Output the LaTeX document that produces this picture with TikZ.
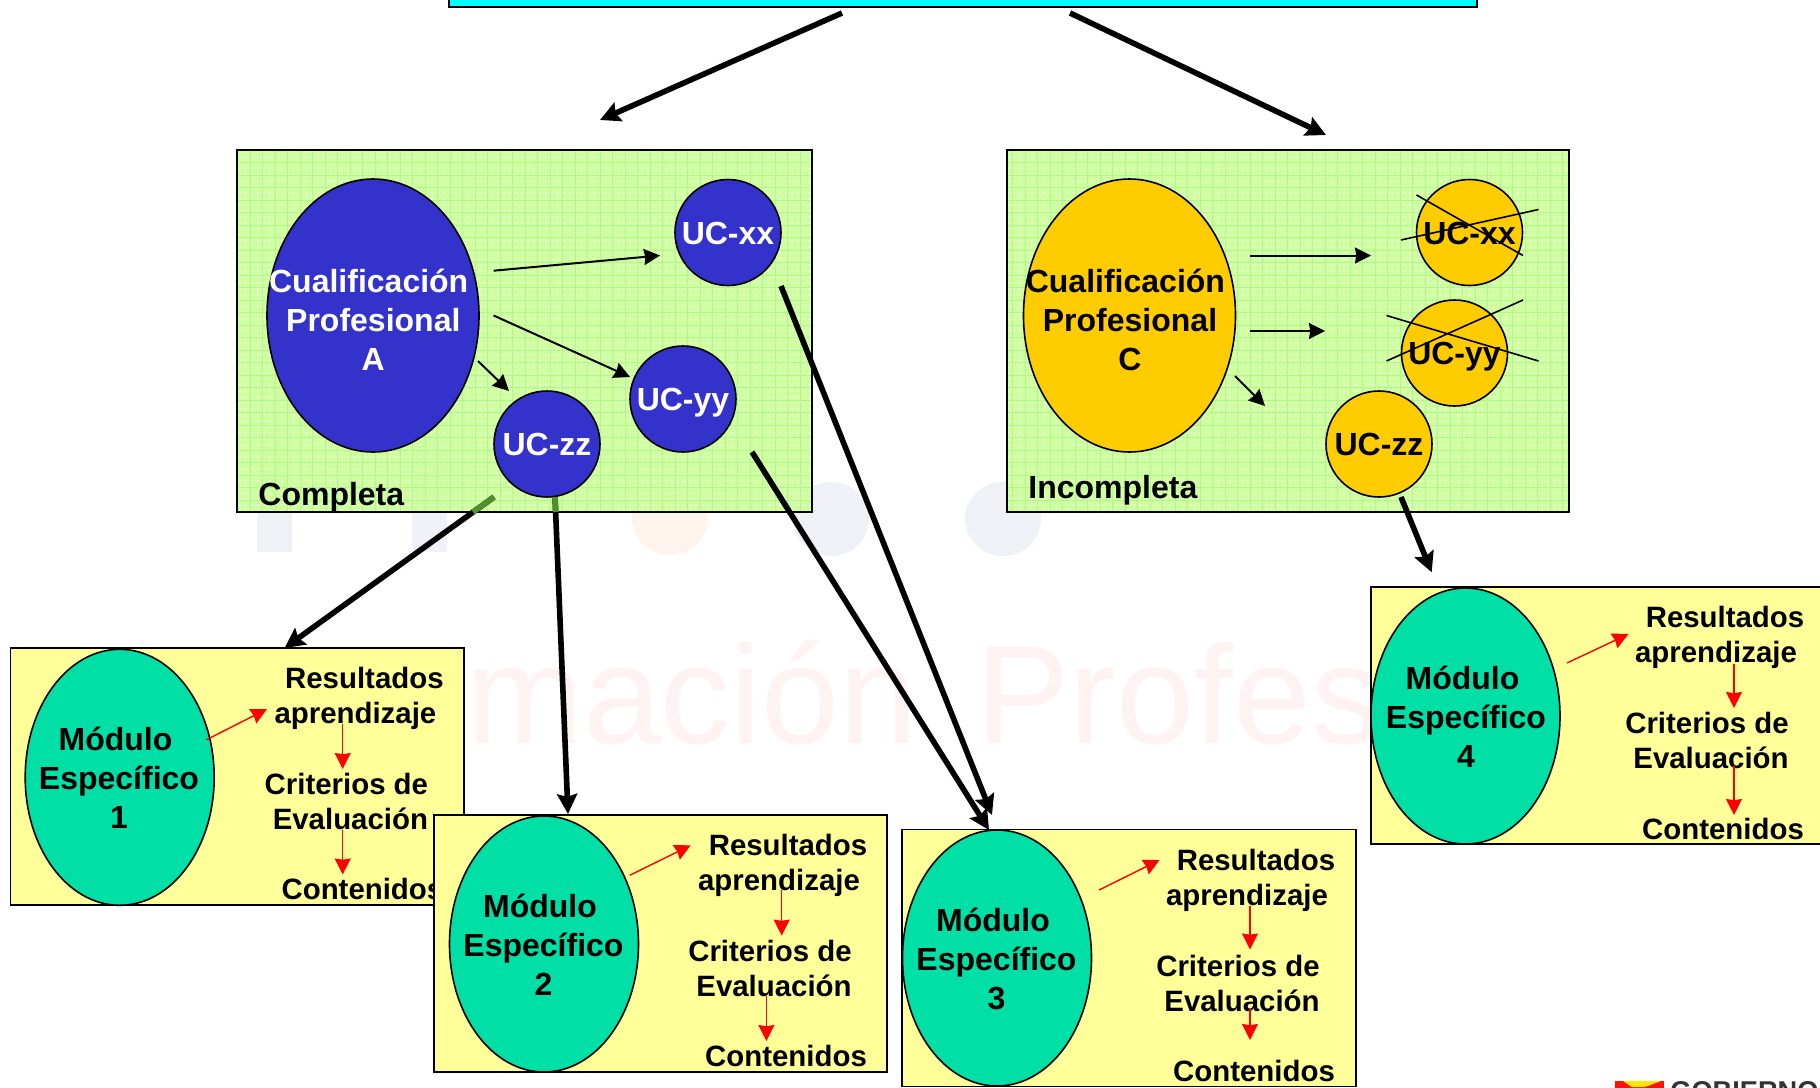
\documentclass[tikz,border=0pt]{standalone}
\usepackage{fontspec}
\setmainfont{Liberation Sans}
\usetikzlibrary{shapes.geometric,arrows.meta,patterns}
\definecolor{azulcian}{HTML}{00FFFF}
\definecolor{verdecaja}{HTML}{CCFF99}
\definecolor{verderejilla}{HTML}{AEF98A}
\definecolor{azuluc}{HTML}{3333CC}
\definecolor{naranjauc}{HTML}{FFCC00}
\definecolor{amarillocaja}{HTML}{FFFF99}
\definecolor{verdemodulo}{HTML}{00E0A6}
\definecolor{verdetramo}{HTML}{4F8F2C}
\tikzset{
	texto/.style={font=\fontsize{16}{19.4}\selectfont\bfseries, text height=11.5pt, text depth=0pt, inner sep=0pt},
	textocaja/.style={font=\fontsize{14.7}{19.4}\selectfont\bfseries, text height=10.5pt, text depth=0pt, inner sep=0pt},
	varias/.style={font=\fontsize{16}{19.4}\selectfont\bfseries, align=center, inner sep=0pt},
	cajaverde/.style={preaction={fill=verdecaja, fill opacity=.92}, pattern=dots, pattern color=white!80!verdecaja, inner sep=0pt},
	cajaamarilla/.style={draw=black, line width=.9pt, fill=amarillocaja, minimum height=128.5pt, inner sep=0pt},
	uc/.style={circle, draw=black, line width=.8pt, minimum size=53pt, inner sep=0pt, texto},
	cualif/.style={ellipse, draw=black, line width=.8pt, minimum width=106pt, minimum height=136.5pt, inner sep=0pt},
	modulo/.style={ellipse, draw=black, line width=.8pt, fill=verdemodulo, minimum width=94.5pt, minimum height=128pt, inner sep=0pt},
	gruesa/.style={-{Stealth[length=10pt,width=10pt,inset=1.5pt]}, line width=2.8pt},
	fina/.style={-{Stealth[length=8pt,width=8pt,inset=.6pt]}, line width=1pt},
	roja/.style={-{Stealth[length=8pt,width=8pt,inset=.6pt]}, line width=.7pt, red},
	aspa/.style={line width=.8pt},
	tramo/.style={line width=2.8pt, verdetramo},
	rejilla/.style={verderejilla, line width=.35pt, step=6.25pt},
	borde/.style={line width=1pt},
	marcaagua/.style={ellipse, minimum width=38pt, minimum height=37pt, inner sep=0pt},
	agua/.style={anchor=base west, font=\fontsize{70}{70}\selectfont, text=red!5, inner sep=0pt}
}
\begin{document}
\begin{tikzpicture}[x=0.5pt,y=-0.5pt]
		\useasboundingbox (0,0) rectangle (1820,1087);
		\fill[white] (0,0) rectangle (1820,1087);
		\fill[blue!30!gray!9] (257,360) rectangle (292,552);
		\fill[blue!40!gray!8] (412,360) rectangle (447,552);
		\node[marcaagua, fill=red!40!orange!7] (manchaRoja) at (670,518) { };
		\node[marcaagua, fill=blue!30!gray!9] (manchaGris) at (831,519) { };
		\node[marcaagua, fill=blue!30!gray!9] (manchaAzul) at (1003,519) { };
		\node[agua] (aguaUno) at (466,743) {mación};
		\node[agua] (aguaDos) at (976,743) {Profes};
		\node[fill=azulcian, draw=black, line width=1pt, minimum width=514pt, minimum height=13.5pt, inner sep=0pt] (titulo) at (963,-6.5) { };
		\node[cajaverde, minimum width=287.5pt, minimum height=181pt] (completa) at (524.5,331) { };
		\node[cajaverde, minimum width=280.5pt, minimum height=181pt] (incompleta) at (1288,331) { };
		\draw[rejilla] (completa.south west) grid (completa.north east);
		\draw[rejilla] (incompleta.south west) grid (incompleta.north east);
		\draw[borde] (completa.south west) rectangle (completa.north east);
		\draw[borde] (incompleta.south west) rectangle (incompleta.north east);
		\node[cualif, fill=azuluc] (cualA) at (373,315.5) { };
		\node[varias, text=white] (textoA) at (373.3,320) {Cualificación\rule{4.6pt}{0pt}\\Profesional\\A};
		\node[uc, fill=azuluc, text=white] (ucxa) at (728,232.5) {UC-xx};
		\node[uc, fill=azuluc, text=white] (ucya) at (683,399) {UC-yy};
		\node[uc, fill=azuluc, text=white] (ucza) at (547,444) {UC-zz};
		\node[texto, anchor=west] (etiquetaA) at (258,494) {Completa};
		\node[cualif, fill=naranjauc] (cualC) at (1129.5,315.5) { };
		\node[varias] (textoC) at (1130,320) {Cualificación\rule{4.6pt}{0pt}\\Profesional\\C};
		\node[uc, fill=naranjauc] (ucxc) at (1469.5,232.5) {UC-xx};
		\node[uc, fill=naranjauc] (ucyc) at (1454.5,353) {UC-yy};
		\node[uc, fill=naranjauc] (uczc) at (1379,444) {UC-zz};
		\node[texto, anchor=west] (etiquetaC) at (1028,487) {Incompleta};
		\draw[aspa] ([shift={(-53,-37.5)}]ucxc.center) -- ([shift={(53.5,23)}]ucxc.center);
		\draw[aspa] ([shift={(-68.5,7.5)}]ucxc.center) -- ([shift={(69,-23)}]ucxc.center);
		\draw[aspa] ([shift={(-68,-37.5)}]ucyc.center) -- ([shift={(84,8)}]ucyc.center);
		\draw[aspa] ([shift={(-68,8)}]ucyc.center) -- ([shift={(68.5,-53)}]ucyc.center);
		\draw[fina] ([shift={(120.6,-44.8)}]cualA.center) -- ([shift={(-68,23)}]ucxa.center);
		\draw[fina] ([shift={(120.6,0)}]cualA.center) -- ([shift={(-53,-22)}]ucya.center);
		\draw[fina] ([shift={(105,45.5)}]cualA.center) -- ([shift={(-38,-53)}]ucza.center);
		\draw[fina] ([shift={(120.5,-60)}]cualC.center) -- ([shift={(-98.5,23)}]ucxc.center);
		\draw[fina] ([shift={(120.5,15.5)}]cualC.center) -- ([shift={(-129.5,-22)}]ucyc.center);
		\draw[fina] ([shift={(105.5,60.5)}]cualC.center) -- ([shift={(-114,-38)}]uczc.center);
		\node[cajaamarilla, minimum width=226.8pt] (caja1) at (237.2,776.5) { };
		\node[modulo] (modulo1) at (119.7,777.3) { };
		\node[varias] (textoM1) at (119,778) {Módulo\rule{3.5pt}{0pt}\\Específico\\1};
		\node[textocaja] (resultados1) at (364.4,678) {Resultados};
		\node[textocaja] (aprendizaje1) at (355.4,713) {aprendizaje};
		\node[textocaja] (criterios1) at (346.4,784) {Criterios de};
		\node[textocaja] (evaluacion1) at (350.4,819) {Evaluación};
		\node[textocaja] (contenidos1) at (362.4,889) {Contenidos};
		\draw[roja] ([shift={(86.9,-37.6)}]modulo1.center) -- ([shift={(-88.4,-4)}]aprendizaje1.center);
		\draw[roja] ([shift={(-12.7,10.6)}]aprendizaje1.center) -- ([shift={(-3.7,-15)}]criterios1.center);
		\draw[roja] ([shift={(-7.7,10.6)}]evaluacion1.center) -- ([shift={(-19.7,-14.5)}]contenidos1.center);
		\node[cajaamarilla, minimum width=226.5pt] (caja2) at (660.5,943.7) { };
		\node[modulo] (modulo2) at (544,944) { };
		\node[varias] (textoM2) at (543.5,944.5) {Módulo\rule{3.5pt}{0pt}\\Específico\\2};
		\node[textocaja] (resultados2) at (788,845.4) {Resultados};
		\node[textocaja] (aprendizaje2) at (779,880.4) {aprendizaje};
		\node[textocaja] (criterios2) at (770,951.4) {Criterios de};
		\node[textocaja] (evaluacion2) at (774,986.4) {Evaluación};
		\node[textocaja] (contenidos2) at (786,1056.4) {Contenidos};
		\draw[roja] ([shift={(85.7,-68.7)}]modulo2.center) -- ([shift={(-88.3,-35.1)}]aprendizaje2.center);
		\draw[roja] ([shift={(2.7,9.1)}]aprendizaje2.center) -- ([shift={(11.7,-15.8)}]criterios2.center);
		\draw[roja] ([shift={(-7.6,9.1)}]evaluacion2.center) -- ([shift={(-19.6,-15.4)}]contenidos2.center);
		\node[cajaamarilla, minimum width=227pt] (caja3) at (1129,958) { };
		\node[modulo] (modulo3) at (997,958) { };
		\node[varias] (textoM3) at (996.5,959) {Módulo\rule{3.5pt}{0pt}\\Específico\\3};
		\node[textocaja] (resultados3) at (1256,860) {Resultados};
		\node[textocaja] (aprendizaje3) at (1247,895) {aprendizaje};
		\node[textocaja] (criterios3) at (1238,966) {Criterios de};
		\node[textocaja] (evaluacion3) at (1242,1001) {Evaluación};
		\node[textocaja] (contenidos3) at (1254,1071) {Contenidos};
		\draw[roja] ([shift={(102,-68)}]modulo3.center) -- ([shift={(-87.4,-35)}]aprendizaje3.center);
		\draw[roja] ([shift={(3,11)}]aprendizaje3.center) -- ([shift={(12,-16.5)}]criterios3.center);
		\draw[roja] ([shift={(8,8)}]evaluacion3.center) -- ([shift={(-4,-31)}]contenidos3.center);
		\node[cajaamarilla, minimum width=229.5pt] (caja4) at (1600.5,715.5) { };
		\node[modulo] (modulo4) at (1465.5,716) { };
		\node[varias] (textoM4) at (1466,717) {Módulo\rule{3.5pt}{0pt}\\Específico\\4};
		\node[textocaja] (resultados4) at (1725,617) {Resultados};
		\node[textocaja] (aprendizaje4) at (1716,652) {aprendizaje};
		\node[textocaja] (criterios4) at (1707,723) {Criterios de};
		\node[textocaja] (evaluacion4) at (1711,758) {Evaluación};
		\node[textocaja] (contenidos4) at (1723,829) {Contenidos};
		\draw[roja] ([shift={(101.5,-53)}]modulo4.center) -- ([shift={(-87.5,-18)}]aprendizaje4.center);
		\draw[roja] ([shift={(18,12)}]aprendizaje4.center) -- ([shift={(27,-15)}]criterios4.center);
		\draw[roja] ([shift={(23,8)}]evaluacion4.center) -- ([shift={(11,-14)}]contenidos4.center);
		\draw[gruesa] ([shift={(-121,19.5)}]titulo.center) -- ([shift={(75.5,-211)}]completa.center);
		\draw[gruesa] ([shift={(107,19.5)}]titulo.center) -- ([shift={(38,-196)}]incompleta.center);
		\draw[gruesa] ([shift={(-53,53)}]ucza.center) -- ([shift={(47.4,-128.5)}]caja1.center);
		\draw[gruesa] ([shift={(8,53)}]ucza.center) -- ([shift={(-92.5,-129.7)}]caja2.center);
		\draw[gruesa] ([shift={(53,53.5)}]ucxa.center) -- ([shift={(-137,-143)}]caja3.center);
		\draw[gruesa] ([shift={(69,53)}]ucya.center) -- ([shift={(-140,-128)}]caja3.center);
		\draw[gruesa] ([shift={(22,53)}]uczc.center) -- ([shift={(-168.8,-143.2)}]caja4.center);
		\draw[tramo] ([shift={(-53,53)}]ucza.center) -- ([shift={(-74,68)}]ucza.center);
		\draw[tramo] ([shift={(8,53)}]ucza.center) -- ([shift={(8.8,68)}]ucza.center);
		\fill[red!85!orange] (1615,1081) rectangle (1664,1090);
		\fill[yellow!90!orange] (1623,1081) -- (1661,1081) -- (1645,1087) -- (1632,1087) -- cycle;
		\node[anchor=base west, font=\fontsize{13.6}{13.6}\selectfont\bfseries, text=black!80, inner sep=0pt] (gobierno) at (1670,1100) {GOBIERNO};
\end{tikzpicture}
\end{document}
